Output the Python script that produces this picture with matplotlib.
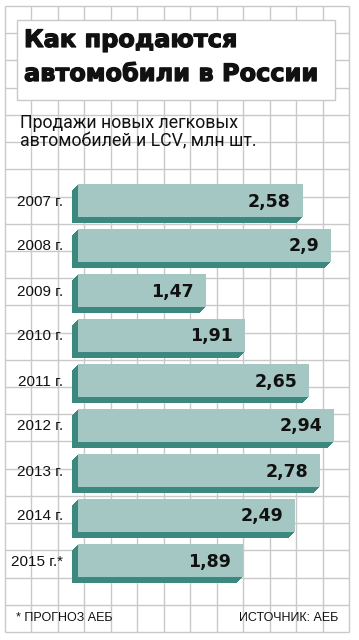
import numpy as np
import matplotlib
matplotlib.use("Agg")
import matplotlib.pyplot as plt
import matplotlib.patheffects as pe
from matplotlib.patches import Rectangle

years = ["2007 г.", "2008 г.", "2009 г.", "2010 г.", "2011 г.", "2012 г.",
         "2013 г.", "2014 г.", "2015 г.*"]
sales = [2.58, 2.9, 1.47, 1.91, 2.65, 2.94, 2.78, 2.49, 1.89]
value_labels = ["2,58", "2,9", "1,47", "1,91", "2,65", "2,94", "2,78", "2,49", "1,89"]

title_lines = ["Как продаются", "автомобили в России"]
subtitle = "Продажи новых легковых\nавтомобилей и LCV, млн шт."
note = "* ПРОГНОЗ АЕБ"
source = "ИСТОЧНИК: АЕБ"

W, H = 359, 640
face = "#a5c7c3"
side = "#3b897e"
grid_c = "#c9c9c9"
narrow = ["Liberation Sans Narrow", "Liberation Sans", "DejaVu Sans"]

fig = plt.figure(figsize=(W / 100, H / 100), dpi=100)
fig.patch.set_facecolor("white")

# background grid, pixel coordinates
bg = fig.add_axes([0, 0, 1, 1])
bg.set_xlim(0, W)
bg.set_ylim(H, 0)
bg.axis("off")
xs = np.linspace(4.5, 349, 14)
ys = np.linspace(6, 632, 24)
bg.vlines(xs, 6, 632, color=grid_c, lw=1)
bg.hlines(ys, 4.5, 349, color=grid_c, lw=1)

# title box
bg.add_patch(Rectangle((17, 20), 318, 80, facecolor="white", edgecolor=grid_c, lw=1, zorder=2))
for line, base in zip(title_lines, [47, 81]):
    bg.text(24, base, line, fontsize=17.3, fontweight="heavy", family="DejaVu Sans",
            va="baseline", ha="left", color="#111111", zorder=3,
            path_effects=[pe.withStroke(linewidth=0.9, foreground="#111111")])
bg.text(20, 114, subtitle, fontsize=12.8, family="Roboto", va="top", ha="left",
        linespacing=1.05, color="#111111", zorder=3)
bg.text(16, 618, note, fontsize=9, family=narrow, va="center", ha="left", color="#111111")
bg.text(338, 618, source, fontsize=9, family=narrow, va="center", ha="right", color="#111111")

# bar chart
px_per_unit = 87.2
left_px, right_px = 78, 349
top_px, bot_px = 178, 583
ax = fig.add_axes([left_px / W, 1 - bot_px / H, (right_px - left_px) / W, (bot_px - top_px) / H])
ax.set_xlim(0, (right_px - left_px) / px_per_unit)
ax.set_ylim(len(years) - 0.5, -0.5)
ax.axis("off")
ax.patch.set_alpha(0)

y = np.arange(len(years))
depth = [pe.SimplePatchShadow(offset=(-0.72 * i, -0.72 * i), shadow_rgbFace=side, alpha=1.0, rho=1.0)
         for i in range(6, 0, -1)]
bars = ax.barh(y, sales, height=33 / 45, color=face, edgecolor="none")
for b in bars:
    b.set_clip_on(False)
    b.set_path_effects(depth + [pe.Normal()])

for yi, v, lab in zip(y, sales, value_labels):
    ax.annotate(lab, (v, yi), xytext=(-12, -1), textcoords="offset pixels",
                ha="right", va="center", fontsize=12.5, fontweight="bold",
                family="DejaVu Sans", color="#111111")

for yi, lab in zip(y, years):
    ax.annotate(lab, (0, yi), xytext=(-15, -1), textcoords="offset pixels",
                ha="right", va="center", fontsize=11, family=narrow, color="#111111")

fig.savefig("out.png", dpi=100, facecolor="white")
